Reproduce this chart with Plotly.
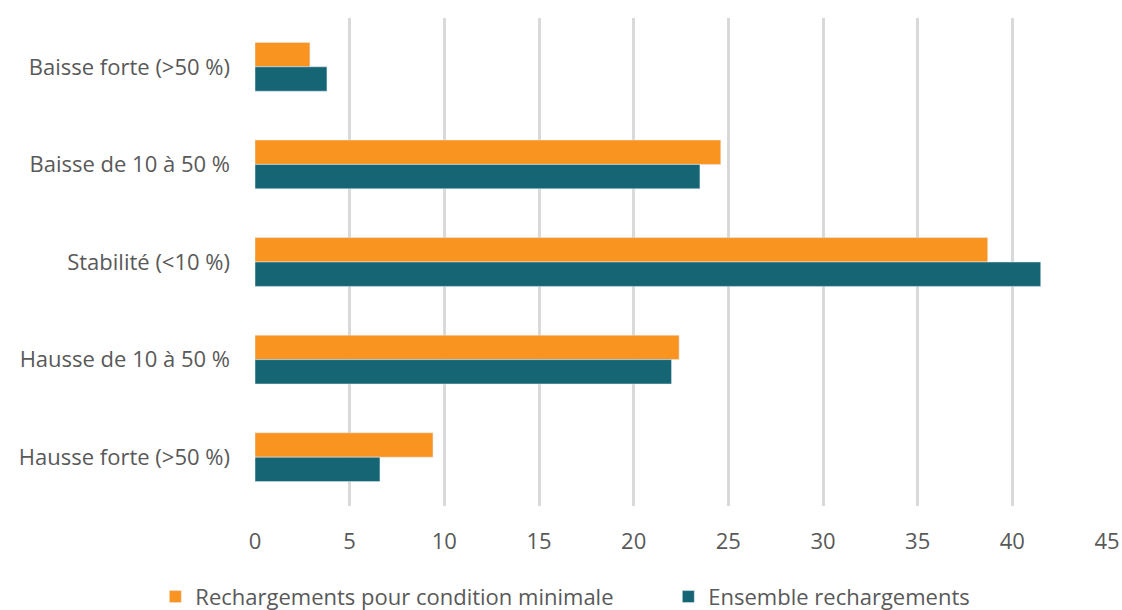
import plotly.graph_objects as go

categories = [
    "Baisse forte (>50 %)",
    "Baisse de 10 à 50 %",
    "Stabilité (<10 %)",
    "Hausse de 10 à 50 %",
    "Hausse forte (>50 %)",
]
recharges_condition_minimale = [2.9, 24.6, 38.7, 22.4, 9.4]
ensemble_recharges = [3.8, 23.5, 41.5, 22.0, 6.6]
x_ticks = [0, 5, 10, 15, 20, 25, 30, 35, 40, 45]

ORANGE = "#F99420"
TEAL = "#166574"
TEXT = "#595959"
FONT = "'Open Sans', Lato, sans-serif"

fig = go.Figure()
fig.add_trace(go.Bar(
    y=categories, x=recharges_condition_minimale, orientation="h",
    name="Rechargements pour condition minimale", marker_color=ORANGE,
))
fig.add_trace(go.Bar(
    y=categories, x=ensemble_recharges, orientation="h",
    name="Ensemble rechargements", marker_color=TEAL,
))

fig.update_layout(
    width=1122, height=610,
    margin=dict(l=255, r=15, t=18, b=104, autoexpand=False),
    paper_bgcolor="white", plot_bgcolor="white",
    barmode="group", bargap=0.5, bargroupgap=0,
    font=dict(family=FONT, size=22, color=TEXT),
    legend=dict(
        orientation="h", x=-0.117, xanchor="left", y=-0.186, yanchor="middle",
        font=dict(size=22, color=TEXT), itemwidth=30, traceorder="normal",
        entrywidth=468, entrywidthmode="pixels",
    ),
    xaxis=dict(
        range=[0, 45], tickvals=x_ticks, showgrid=True, gridcolor="#D9D9D9",
        gridwidth=3, zeroline=False, showline=False, ticks="",
        tickfont=dict(size=22, color=TEXT), ticklabelstandoff=20,
        automargin=False,
    ),
    yaxis=dict(
        autorange="reversed", showgrid=False, zeroline=False, ticks="",
        tickfont=dict(size=22, color=TEXT), ticklabelstandoff=24,
        automargin=False,
    ),
)

fig.write_html("out.html")
